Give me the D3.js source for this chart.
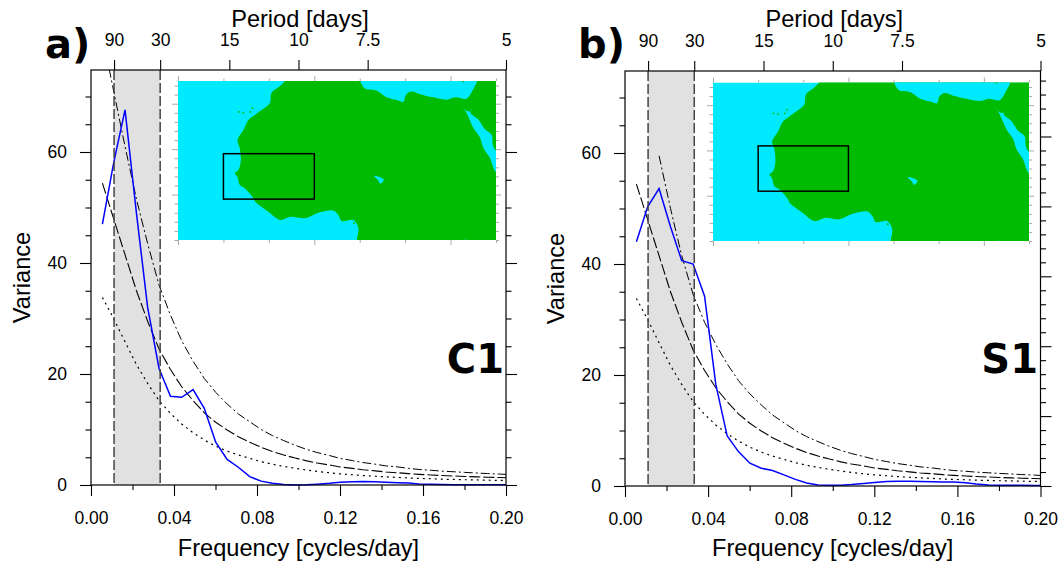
<!DOCTYPE html>
<html><head><meta charset="utf-8">
<script src="https://cdn.jsdelivr.net/npm/d3@7/dist/d3.min.js"></script>
<style>html,body{margin:0;padding:0;background:#fff}svg{display:block}text{font-family:"Liberation Sans",Arial,sans-serif;fill:#000}</style>
</head><body><svg id="c" width="1062" height="562"></svg>
<script>
const freq=[.0055,.0109,.0164,.0219,.0273,.0328,.0383,.0437,.0492,.0546,.0601,.0656,.071,.0765,.082,.0874,.0929,.0984,.104,.109,.115,.12,.126,.131,.137,.142,.148,.153,.158,.164,.169,.175,.18,.186,.191,.197,.2];
const spectrumC1=[47,58,67.6,49,32,21,16,15.8,17.2,13.8,7.7,4.6,3.2,1.5,.7,.3,.1,0,.05,.15,.3,.5,.6,.65,.6,.5,.4,.35,.2,.12,.08,.05,.05,.04,.03,.03,.03];
const spectrumS1=[44,50.3,53.6,46.7,40.6,40,34.2,18.3,9,6.2,4.1,3.2,2.8,2,1.2,.55,.2,.12,.15,.25,.45,.65,.8,.85,.85,.8,.75,.7,.7,.6,.35,.2,.15,.15,.12,.1,.1];
const meanCurve=[54.4,48,41.5,35,29.5,24.5,20.8,17.7,15.2,13,11.3,9.9,8.7,7.7,6.8,6.05,5.4,4.85,4.35,3.95,3.6,3.25,3,2.75,2.55,2.35,2.2,2.05,1.92,1.8,1.7,1.62,1.54,1.47,1.4,1.34,1.3];
const lowerCurve=[33.8,30,25.8,21.7,18.3,15.2,12.9,11,9.4,8.1,7,6.1,5.4,4.8,4.2,3.75,3.35,3,2.7,2.45,2.2,2,1.85,1.7,1.58,1.46,1.36,1.27,1.19,1.12,1.05,1,.95,.91,.87,.83,.8];
const upperCurveC1=[81,71,61,51.5,43.5,36,30.6,26,22.3,19.2,16.7,14.6,12.8,11.4,10,8.9,8,7.15,6.4,5.85,5.3,4.8,4.4,4.05,3.75,3.45,3.25,3,2.8,2.65,2.5,2.38,2.27,2.16,2.06,1.97,1.9];
const upperCurveS1=[null,null,59.5,50,41.5,34.5,29.5,25.5,22,19,16.6,14.6,12.8,11.4,10,8.9,8,7.15,6.4,5.85,5.3,4.8,4.4,4.05,3.75,3.45,3.25,3,2.8,2.65,2.5,2.38,2.27,2.16,2.06,1.97,1.9];
const freqTicks=[0,.04,.08,.12,.16,.2];
const freqMinor=[.02,.06,.1,.14,.18];
const periodTicks=[90,30,15,10,7.5,5];
const varTicks=[0,20,40,60];
const varMinor=[5,10,15,25,30,35,45,50,55,65,70];
const rightMajorS1=[0,1,2,3,4,5];
const rightMinorS1=[.2,.4,.6,.8,1.2,1.4,1.6,1.8,2.2,2.4,2.6,2.8,3.2,3.4,3.6,3.8,4.2,4.4,4.6,4.8,5.2,5.4,5.6,5.8];
const bandPeriods=[90,30];
// map geometry, [lon, lat]
const africa=[[-6.4,35.2],[-7.9,33.6],[-9.4,32.4],[-9.8,30.1],[-11.6,28.6],[-13.1,27.5],[-14.5,26.4],[-15.6,24.2],[-16.9,22],[-16.4,20.2],[-16.2,17.2],[-16.7,15.4],[-17.5,14.7],[-16.9,13.8],[-16.4,12.1],[-15.3,11.4],[-13.4,9.2],[-13,8.4],[-10.1,6.2],[-7.5,4.4],[-5.3,5.1],[-2,4.8],[.9,6],[4.2,6.5],[5.3,5.5],[6,4.2],[8.6,4.4],[9.7,2.6],[9.3,-.2],[9.3,-1],[42,-1],[42,37],[-6.4,37]];
const mediterranean=[[10.06,37],[10.06,35.2],[11.2,33.3],[13.7,32.9],[15.9,31.4],[18.5,30.7],[19.6,30.4],[20.2,32],[21.4,32.7],[23.3,32.1],[26.2,31.4],[29.1,30.9],[31,31.4],[33.5,31.1],[34.7,32.7],[35.9,35.2],[35.9,37]];
const redSea=[[32.3,29.9],[33.5,28],[35,24.7],[36.5,22.5],[37.2,20.3],[38.7,18],[39.6,15.5],[40.5,14.5],[41,18],[39.4,20.6],[39,23.2],[37.6,24.3],[36.1,26.5],[34.4,28],[35,29.4],[34.3,28.3],[33.4,28.5]];
const lakeChad=[[13.2,14.1],[14.2,13.9],[15.3,13.3],[14.6,12.4],[14,13.2]];
const lakeVictoria=[[32.6,-.4],[33.2,.1],[34,-.4]];
const islands=[[-16.6,28.2],[-15.6,28],[-14.1,28.2],[-13.6,29],[8.7,3.7],[32.8,34.9]];
const lonMajor=[-30,0,30];
const lonMinor=[-20,-10,10,20,40];
const latMajor=[10,20,30];
const latMinor=[0,2,4,6,8,12,14,16,18,22,24,26,28,32,34];

const panels=[
 {tag:"a)",name:"C1",x0:91,x1:506,y0:485,y1:70,spec:spectrumC1,upper:upperCurveC1,
  map:[178,496,240,81],box:[-20,0,9,19],tagX:45,nameX:504},
 {tag:"b)",name:"S1",x0:625,x1:1040.5,y0:486,y1:71,spec:spectrumS1,upper:upperCurveS1,
  map:[713,1029,241,82.5],box:[-20,0,11,21],tagX:578,nameX:1038}
];
const svg=d3.select("#c");
const defs=svg.append("defs");
defs.append("filter").attr("id","soft").append("feGaussianBlur").attr("stdDeviation",.45);

function style(g,w,col){g.select(".domain").remove();g.selectAll("line").attr("stroke",col||"#000").attr("stroke-width",w||1.1);
 g.selectAll("text").style("font-size","17.5px").attr("fill","#000");return g;}

panels.forEach((p,i)=>{
 const x=d3.scaleLinear().domain([0,.2]).range([p.x0,p.x1]);
 const yMax=(p.y0-p.y1)/5.55;
 const y=d3.scaleLinear().domain([0,yMax]).range([p.y0,p.y1]);
 const g=svg.append("g");
 defs.append("clipPath").attr("id","clip"+i).append("rect").attr("x",p.x0).attr("y",p.y1).attr("width",p.x1-p.x0).attr("height",p.y0-p.y1);
 defs.append("clipPath").attr("id","mapclip"+i).append("rect").attr("x",p.map[0]).attr("y",p.map[3]).attr("width",p.map[1]-p.map[0]).attr("height",p.map[2]-p.map[3]);
 // band
 g.append("rect").attr("x",x(1/bandPeriods[0])).attr("width",x(1/bandPeriods[1])-x(1/bandPeriods[0])).attr("y",p.y1).attr("height",p.y0-p.y1).attr("fill","#e1e1e1");
 // reference curves
 const line=d3.line().defined(d=>d[1]!==null).x(d=>x(d[0])).y(d=>y(d[1])).curve(d3.curveLinear);
 const pair=a=>freq.map((f,k)=>[f,a[k]]);
 const curves=g.append("g").attr("clip-path",`url(#clip${i})`);
 [[lowerCurve,"2,4",1.2],[meanCurve,"11,3",1.1],[p.upper,"9,3,2,3",1]].forEach(c=>{
  curves.append("path").attr("d",line(pair(c[0]))).attr("fill","none").attr("stroke","#000").attr("stroke-width",c[2]).attr("stroke-dasharray",c[1]);
 });
 // map
 const mx=d3.scaleLinear().domain([-30,40]).range([p.map[0],p.map[1]]);
 const my=d3.scaleLinear().domain([0,35]).range([p.map[2],p.map[3]]);
 const mline=d3.line().x(d=>mx(d[0])).y(d=>my(d[1])).curve(d3.curveCatmullRomClosed.alpha(.5));
 const mg=g.append("g");
 const soft=mg.append("g").attr("filter","url(#soft)").append("g").attr("clip-path",`url(#mapclip${i})`);
 soft.append("rect").attr("x",p.map[0]).attr("y",p.map[3]).attr("width",p.map[1]-p.map[0]).attr("height",p.map[2]-p.map[3]).attr("fill","#00eaff");
 soft.append("path").attr("d",mline(africa)).attr("fill","#00bb00");
 [mediterranean,redSea,lakeChad,lakeVictoria].forEach(s=>soft.append("path").attr("d",mline(s)).attr("fill","#00eaff"));
 soft.selectAll("circle").data(islands).join("circle").attr("cx",d=>mx(d[0])).attr("cy",d=>my(d[1])).attr("r",.9).attr("fill","#00bb00");
 // map ticks
 const tk=(axis,vals,size,tx,ty)=>{const a=mg.append("g").attr("transform",`translate(${tx},${ty})`).call(axis.tickValues(vals).tickSize(size).tickFormat(""));a.select(".domain").remove();a.selectAll("line").attr("stroke","#aaa").attr("stroke-width",1);};
 tk(d3.axisBottom(mx),lonMajor,5,0,p.map[2]);tk(d3.axisBottom(mx),lonMinor,3,0,p.map[2]);
 tk(d3.axisTop(mx),lonMajor,5,0,p.map[3]);tk(d3.axisTop(mx),lonMinor,2.5,0,p.map[3]);
 tk(d3.axisLeft(my),latMajor,6,p.map[0],0);tk(d3.axisLeft(my),latMinor,3.5,p.map[0],0);
 tk(d3.axisRight(my),latMajor,5,p.map[1],0);tk(d3.axisRight(my),latMinor,3,p.map[1],0);
 // box
 mg.append("rect").attr("x",mx(p.box[0])).attr("width",mx(p.box[1])-mx(p.box[0])).attr("y",my(p.box[3])).attr("height",my(p.box[2])-my(p.box[3])).attr("fill","none").attr("stroke","#000").attr("stroke-width",1.5);
 // blue spectrum
 g.append("path").attr("d",line(pair(p.spec))).attr("fill","none").attr("stroke","#0000ff").attr("stroke-width",1.5);
 // band edges
 g.selectAll("line.band").data(bandPeriods).join("line").attr("class","band").attr("x1",d=>x(1/d)).attr("x2",d=>x(1/d)).attr("y1",p.y1).attr("y2",p.y0).attr("stroke","#444").attr("stroke-width",1.5).attr("stroke-dasharray","10,3");
 // frame
 g.append("rect").attr("x",p.x0).attr("y",p.y1).attr("width",p.x1-p.x0).attr("height",p.y0-p.y1).attr("fill","none").attr("stroke","#000").attr("stroke-width",1.2);
 // axes
 const fmt=d3.format(".2f");
 style(g.append("g").attr("transform",`translate(0,${p.y0})`).call(d3.axisBottom(x).tickValues(freqTicks).tickSize(11).tickPadding(15.5).tickFormat(fmt)));
 style(g.append("g").attr("transform",`translate(0,${p.y0})`).call(d3.axisBottom(x).tickValues(freqMinor).tickSize(5).tickFormat("")));
 style(g.append("g").attr("transform",`translate(${p.x0},0)`).call(d3.axisLeft(y).tickValues(varTicks).tickSize(11).tickPadding(13).tickFormat(d3.format("d"))));
 style(g.append("g").attr("transform",`translate(${p.x0},0)`).call(d3.axisLeft(y).tickValues(varMinor).tickSize(5.5).tickFormat("")));
 style(g.append("g").attr("transform",`translate(0,${p.y1})`).call(d3.axisTop(x).tickValues(periodTicks.map(d=>1/d)).tickSize(10).tickPadding(14).tickFormat((d,k)=>periodTicks[k])));
 if(i===0){
  style(g.append("g").attr("transform",`translate(${p.x1},0)`).call(d3.axisRight(y).tickValues(varTicks).tickSize(11).tickFormat("")));
  style(g.append("g").attr("transform",`translate(${p.x1},0)`).call(d3.axisRight(y).tickValues(varMinor).tickSize(5.5).tickFormat("")));
 } else {
  const r=d3.scaleLinear().domain([0,6]).range([p.y0,p.y0-419.4]);
  style(g.append("g").attr("transform",`translate(${p.x1},0)`).call(d3.axisRight(r).tickValues(rightMajorS1).tickSize(11).tickFormat("")));
  style(g.append("g").attr("transform",`translate(${p.x1},0)`).call(d3.axisRight(r).tickValues(rightMinorS1).tickSize(5.5).tickFormat("")));
 }
 // titles
 const cx=(p.x0+p.x1)/2;
 g.append("text").attr("x",cx+1.5).attr("y",27).attr("text-anchor","middle").style("font-size","23.6px").text("Period [days]");
 g.append("text").attr("x",cx).attr("y",556).attr("text-anchor","middle").style("font-size","23.6px").text("Frequency [cycles/day]");
 g.append("text").attr("transform",`translate(${p.x0-61},${(p.y0+p.y1)/2}) rotate(-90)`).attr("text-anchor","middle").style("font-size","23.6px").text("Variance");
 g.append("text").attr("x",p.tagX).attr("y",58).style("font-family","'DejaVu Sans'").style("font-weight","bold").style("font-size","40px").text(p.tag);
 g.append("text").attr("x",p.nameX).attr("y",373).attr("text-anchor","end").style("font-family","'DejaVu Sans'").style("font-weight","bold").style("font-size","40px").text(p.name);
});
</script></body></html>
